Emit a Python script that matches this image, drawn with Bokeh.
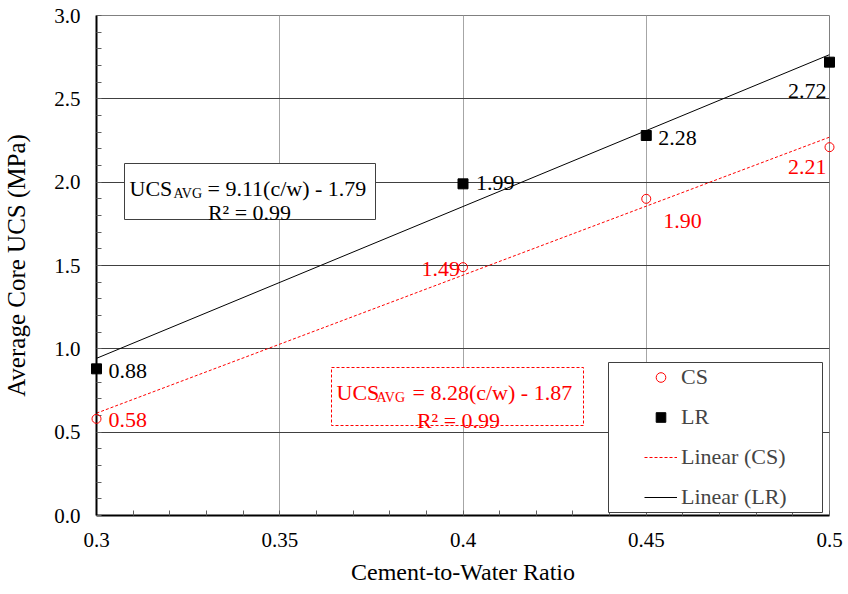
import numpy as np
from bokeh.plotting import figure
from bokeh.models import (ColumnDataSource, Range1d, FixedTicker, NumeralTickFormatter,
                          Legend, LegendItem, Label, BoxAnnotation)
from bokeh.core.properties import value
from bokeh.embed import file_html
from bokeh.resources import INLINE

# ---- data ----
cw = [0.3, 0.4, 0.45, 0.5]
ucs_cs = [0.58, 1.49, 1.90, 2.21]
ucs_lr = [0.88, 1.99, 2.28, 2.72]
lab_cs = ["0.58", "1.49", "1.90", "2.21"]
lab_lr = ["0.88", "1.99", "2.28", "2.72"]
fit_cs = (8.28, -1.87)
fit_lr = (9.11, -1.79)
x_ticks = [0.3, 0.35, 0.4, 0.45, 0.5]
y_ticks = [0.0, 0.5, 1.0, 1.5, 2.0, 2.5, 3.0]

# ---- styling ----
FONT = "Liberation Serif"
RED = "#ff0000"
off_cs_x = [12, -3, 17, -3]
off_cs_y = [1, 2, 22, 20]
align_cs = ["left", "right", "left", "right"]
off_lr_x = [12, 13, 12, -3]
off_lr_y = [2, -1, 2, 29]
align_lr = ["left", "left", "left", "right"]

p = figure(width=848, height=594, x_range=Range1d(0.3, 0.5), y_range=Range1d(0, 3),
           output_backend="svg", toolbar_location=None,
           min_border_left=96, min_border_right=19, min_border_top=15, min_border_bottom=79)
p.background_fill_color = "white"
p.border_fill_color = "white"
p.outline_line_color = "#808080"

# grids
p.xgrid.ticker = FixedTicker(ticks=x_ticks)
p.ygrid.ticker = FixedTicker(ticks=y_ticks)
p.xgrid.grid_line_color = "#a6a6a6"
p.ygrid.grid_line_color = "#404040"

# axes
x_minor = [round(v, 2) for v in np.arange(0.30, 0.5001, 0.01)]
y_minor = [round(v, 1) for v in np.arange(0.0, 3.001, 0.1)]
p.xaxis.ticker = FixedTicker(ticks=x_ticks, minor_ticks=x_minor)
p.yaxis.ticker = FixedTicker(ticks=y_ticks, minor_ticks=y_minor)
p.xaxis.formatter = NumeralTickFormatter(format="0.0[0]")
p.yaxis.formatter = NumeralTickFormatter(format="0.0")
for ax in (p.xaxis, p.yaxis):
    ax.axis_line_color = "black"
    ax.axis_line_width = 2
    ax.major_tick_in = 0
    ax.major_tick_out = 0
    ax.minor_tick_in = 5
    ax.minor_tick_out = 0
    ax.minor_tick_line_color = "#606060"
    ax.major_label_text_font = FONT
    ax.major_label_text_font_size = "21px"
    ax.major_label_text_color = "black"
    ax.axis_label_text_font = FONT
    ax.axis_label_text_font_style = "normal"
    ax.axis_label_text_color = "black"
p.xaxis.axis_label_text_font_size = "24px"
p.yaxis.axis_label_text_font_size = "25px"
p.xaxis.axis_label = "Cement-to-Water Ratio"
p.yaxis.axis_label = "Average Core UCS (MPa)"
p.xaxis.major_label_standoff = 17
p.xaxis.axis_label_standoff = 9
p.yaxis.major_label_standoff = 16
p.yaxis.axis_label_standoff = 21

# trend lines
xf = np.array([min(cw), max(cw)])
r_fit_cs = p.line(xf, fit_cs[0] * xf + fit_cs[1], line_color=RED, line_width=1, line_dash="3 2")
r_fit_lr = p.line(xf, fit_lr[0] * xf + fit_lr[1], line_color="black", line_width=1)

# points
r_cs = p.scatter(cw, ucs_cs, marker="circle", size=9, fill_color=None, line_color=RED,
                 line_width=1, level="overlay")
r_lr = p.scatter(cw, ucs_lr, marker="square", size=10, fill_color="black", line_color="black",
                 level="overlay")

# data labels
src_cs = ColumnDataSource(dict(x=cw, y=ucs_cs, t=lab_cs, xo=off_cs_x, yo=off_cs_y, a=align_cs))
src_lr = ColumnDataSource(dict(x=cw, y=ucs_lr, t=lab_lr, xo=off_lr_x, yo=off_lr_y, a=align_lr))
for src, col in ((src_cs, RED), (src_lr, "black")):
    p.text(x="x", y="y", text="t", x_offset="xo", y_offset="yo", text_align="a",
           text_baseline="middle", text_font=value(FONT), text_font_size="22px", text_color=col,
           source=src)

# equation boxes
def eq_box(left, bottom, right, top, color, dash):
    box = BoxAnnotation(left=left, right=right, bottom=bottom, top=top,
                        left_units="screen", right_units="screen",
                        bottom_units="screen", top_units="screen",
                        fill_color="white", fill_alpha=1.0, line_color=color,
                        line_alpha=1.0, line_width=1, line_dash=dash)
    p.add_layout(box)

def eq_text(x0, y0, slope, icpt, color, x_sub, x_rest, x_r2, y_r2):
    p.add_layout(Label(x=x0, y=y0, x_units="screen", y_units="screen", text="UCS",
                       text_font=FONT, text_font_size="22px", text_color=color,
                       text_baseline="alphabetic"))
    p.add_layout(Label(x=x_sub, y=y0 - 5, x_units="screen", y_units="screen", text="AVG",
                       text_font=FONT, text_font_size="14px", text_color=color,
                       text_baseline="alphabetic"))
    p.add_layout(Label(x=x_rest, y=y0, x_units="screen", y_units="screen",
                       text="= %.2f(c/w) - %.2f" % (slope, -icpt),
                       text_font=FONT, text_font_size="22px", text_color=color,
                       text_baseline="alphabetic"))
    p.add_layout(Label(x=x_r2, y=y_r2, x_units="screen", y_units="screen", text="R² = 0.99",
                       text_font=FONT, text_font_size="22px", text_color=color,
                       text_baseline="alphabetic", text_align="center"))

eq_box(28, 296, 279, 352, "#404040", "solid")
eq_text(33, 327, fit_lr[0], fit_lr[1], "black", 77, 111, 153, 303)
eq_box(235, 90, 487, 148, RED, "3 2")
eq_text(240, 123, fit_cs[0], fit_cs[1], RED, 280, 316, 362, 95)

# legend
p.add_layout(BoxAnnotation(left=512, right=726, bottom=3, top=153,
                           left_units="screen", right_units="screen",
                           bottom_units="screen", top_units="screen",
                           fill_color="white", fill_alpha=1.0, line_color="#404040",
                           line_alpha=1.0, line_width=1))
legend = Legend(items=[LegendItem(label="CS", renderers=[r_cs]),
                       LegendItem(label="LR", renderers=[r_lr]),
                       LegendItem(label="Linear (CS)", renderers=[r_fit_cs]),
                       LegendItem(label="Linear (LR)", renderers=[r_fit_lr])],
                location=(548, 5), border_line_alpha=0, background_fill_alpha=0,
                padding=0, spacing=14, glyph_width=33, glyph_height=24, label_height=24,
                label_standoff=4, label_text_font=FONT, label_text_font_size="22px",
                margin=0)
p.add_layout(legend)

open("out.html", "w").write(file_html(p, INLINE))
